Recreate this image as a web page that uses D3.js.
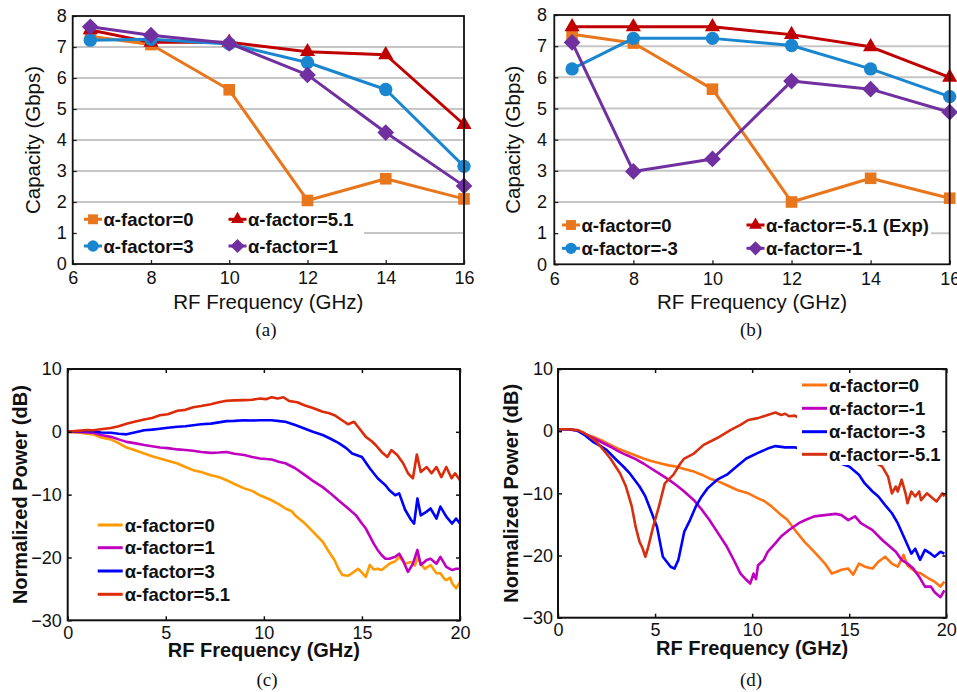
<!DOCTYPE html>
<html>
<head>
<meta charset="utf-8">
<script src="https://cdn.jsdelivr.net/npm/d3@7"></script>
<style>
  body { margin: 0; background: #fff; }
  svg { display: block; }
</style>
</head>
<body>
<svg id="fig" width="957" height="692"></svg>
<script>
// ---- data: capacity panels (a) and (b) ----
const capFreq = [6.45, 8, 10, 12, 14, 16];
const capXTicks = [6, 8, 10, 12, 14, 16];
const capYTicks = [0, 1, 2, 3, 4, 5, 6, 7, 8];

const capA0  = [7.35, 7.08, 5.62, 2.05, 2.75, 2.1];
const capA51 = [7.55, 7.15, 7.15, 6.85, 6.75, 4.5];
const capA3  = [7.22, 7.25, 7.1, 6.5, 5.63, 3.15];
const capA1  = [7.65, 7.38, 7.12, 6.1, 4.24, 2.52];

const capB0   = [7.38, 7.1, 5.62, 2.0, 2.76, 2.12];
const capBm51 = [7.62, 7.62, 7.62, 7.37, 6.98, 6.0];
const capBm3  = [6.27, 7.25, 7.25, 7.02, 6.27, 5.38];
const capBm1  = [7.12, 2.98, 3.38, 5.88, 5.62, 4.88];

const legendA = ["α-factor=0", "α-factor=5.1", "α-factor=3", "α-factor=1"];
const legendB = ["α-factor=0", "α-factor=-5.1 (Exp)", "α-factor=-3", "α-factor=-1"];

// ---- data: normalized power panels (c) and (d), [GHz, dB] ----
const powXTicks = [0, 5, 10, 15, 20];
const powYTicks = [-30, -20, -10, 0, 10];

const powC0 = [[0,0],[0.5,-0.1],[1,-0.3],[1.3,-0.4],[1.7,-0.9],[2.2,-1.2],[2.6,-1.8],[3.0,-2.5],[3.4,-2.9],[3.9,-3.45],[4.3,-3.9],[4.7,-4.25],[5.1,-4.6],[5.6,-5.05],[6.0,-5.6],[6.4,-6.1],[6.8,-6.4],[7.3,-6.9],[7.7,-7.2],[8.1,-7.7],[8.5,-8.3],[9.0,-9.0],[9.4,-9.4],[9.8,-10.1],[10.4,-10.9],[10.8,-11.6],[11.1,-12.2],[11.4,-12.6],[11.6,-13.3],[12.1,-14.6],[12.5,-15.9],[13.0,-17.5],[13.3,-19.0],[13.6,-20.4],[13.8,-21.8],[14.0,-22.8],[14.3,-22.9],[14.5,-22.5],[14.8,-21.8],[15.0,-22.4],[15.2,-23.1],[15.4,-21.2],[15.6,-21.9],[15.8,-21.8],[16.0,-22.0],[16.2,-21.5],[16.4,-21.0],[16.7,-20.6],[16.9,-19.9],[17.2,-21.0],[17.5,-20.7],[17.7,-21.3],[17.85,-19.9],[18.0,-21.0],[18.2,-21.8],[18.5,-21.2],[18.8,-22.5],[19.0,-22.5],[19.2,-23.4],[19.3,-23.6],[19.5,-23.2],[19.6,-24.1],[19.8,-24.9],[20.0,-23.9]];
const powC1 = [[0,0],[0.5,0],[1,-0.1],[1.3,-0.15],[1.7,-0.5],[2.2,-0.8],[2.6,-1.2],[3.0,-1.6],[3.4,-1.8],[3.9,-2.1],[4.3,-2.3],[4.7,-2.5],[5.1,-2.6],[5.6,-2.8],[6.0,-2.9],[6.4,-3.0],[6.8,-3.2],[7.3,-3.35],[7.7,-3.3],[8.1,-3.2],[8.5,-3.5],[9.0,-3.7],[9.4,-4.0],[9.8,-4.25],[10.4,-4.4],[10.8,-4.8],[11.1,-5.0],[11.6,-5.8],[12.1,-6.9],[12.5,-7.8],[13.0,-8.8],[13.4,-9.8],[13.8,-10.9],[14.3,-12.2],[14.7,-13.3],[15.0,-14.6],[15.2,-15.4],[15.4,-16.6],[15.6,-17.8],[15.8,-18.8],[16.0,-19.6],[16.2,-20.2],[16.4,-20.2],[16.7,-19.9],[16.9,-19.4],[17.1,-20.5],[17.35,-22.3],[17.6,-21.0],[17.83,-18.8],[18.0,-21.2],[18.3,-20.4],[18.5,-20.2],[18.8,-21.0],[19.0,-19.9],[19.3,-21.5],[19.6,-22.0],[19.8,-21.8],[20.0,-21.8]];
const powC3 = [[0,0],[0.5,0.1],[1,0.1],[1.3,0.1],[1.7,-0.1],[2.2,-0.15],[2.6,-0.3],[3.0,-0.4],[3.4,-0.1],[3.9,0.25],[4.3,0.35],[4.7,0.5],[5.1,0.65],[5.6,0.8],[6.0,0.9],[6.4,1.05],[6.8,1.2],[7.3,1.3],[7.7,1.5],[8.1,1.7],[8.5,1.75],[9.0,1.85],[9.4,1.8],[9.8,1.85],[10.4,1.85],[10.8,1.7],[11.1,1.6],[11.6,1.1],[12.1,0.5],[12.5,0.0],[13.0,-0.5],[13.4,-1.1],[13.8,-1.75],[14.2,-2.6],[14.5,-3.45],[15.0,-4.0],[15.4,-5.8],[15.8,-7.4],[16.2,-8.5],[16.4,-9.3],[16.7,-10.1],[16.9,-9.8],[17.2,-12.4],[17.5,-14.0],[17.66,-14.6],[17.83,-10.6],[18.0,-13.3],[18.3,-12.7],[18.5,-12.2],[18.8,-13.8],[19.0,-11.9],[19.3,-13.5],[19.6,-14.6],[19.8,-13.8],[20.0,-14.6]];
const powC51 = [[0,0],[0.5,0.15],[1,0.3],[1.3,0.25],[1.7,0.4],[2.2,0.6],[2.6,0.9],[3.0,1.3],[3.4,1.6],[3.9,1.95],[4.3,2.2],[4.7,2.65],[5.1,2.8],[5.6,3.35],[6.0,3.5],[6.4,3.9],[6.8,4.1],[7.3,4.4],[7.7,4.7],[8.1,4.95],[8.5,5.0],[9.0,5.05],[9.4,5.1],[9.8,5.3],[10.1,5.2],[10.4,5.5],[10.7,5.3],[11.0,5.5],[11.3,4.9],[11.7,4.7],[12.1,4.2],[12.5,3.8],[13.0,3.2],[13.3,3.0],[13.6,2.65],[14.1,1.6],[14.3,1.2],[14.6,1.6],[14.8,0.8],[15.2,-0.8],[15.5,-1.5],[15.7,-2.1],[16.0,-3.2],[16.3,-4.0],[16.5,-2.9],[16.8,-3.7],[17.1,-5.0],[17.35,-6.6],[17.6,-7.4],[17.8,-3.6],[18.0,-6.4],[18.3,-5.6],[18.55,-6.6],[18.8,-5.6],[19.05,-7.2],[19.3,-5.6],[19.57,-7.4],[19.75,-6.6],[20.0,-7.7]];

const powD0 = [[0,0.3],[0.5,0.3],[1,0.1],[1.4,-0.5],[1.8,-0.9],[2.2,-1.4],[2.7,-2.2],[3.1,-2.8],[3.5,-3.3],[4.0,-3.9],[4.4,-4.4],[4.8,-4.8],[5.3,-5.2],[5.7,-5.5],[6.1,-5.7],[6.5,-6.1],[7.0,-6.5],[7.4,-7.0],[7.8,-7.6],[8.2,-8.0],[8.7,-8.7],[9.26,-9.5],[9.8,-10.0],[10.3,-10.8],[10.6,-11.2],[11.0,-12.1],[11.5,-13.5],[11.8,-14.2],[12.2,-15.9],[12.7,-17.8],[13.2,-19.4],[13.75,-21.3],[14.1,-22.9],[14.35,-22.6],[14.6,-22.3],[14.95,-22.1],[15.2,-23.1],[15.5,-21.3],[15.8,-21.8],[16.2,-22.1],[16.5,-21.0],[16.85,-20.2],[17.2,-21.3],[17.5,-21.8],[17.8,-19.9],[18.0,-21.6],[18.4,-22.6],[18.7,-22.9],[19.1,-23.7],[19.4,-24.2],[19.7,-25.0],[19.9,-24.2]];
const powDm1 = [[0,0.3],[0.5,0.3],[1,0.1],[1.4,-0.5],[1.8,-1.1],[2.2,-1.7],[2.7,-2.5],[3.1,-3.2],[3.5,-3.8],[4.0,-4.5],[4.4,-5.2],[4.8,-6.0],[5.3,-7.0],[5.7,-7.8],[6.1,-8.7],[6.5,-9.7],[7.0,-11.1],[7.4,-12.6],[7.8,-14.3],[8.2,-16.2],[8.7,-18.6],[9.1,-21.0],[9.4,-22.9],[9.7,-23.9],[9.9,-24.5],[10.07,-22.9],[10.2,-23.8],[10.3,-21.6],[10.6,-20.7],[10.8,-19.4],[11.2,-18.0],[11.5,-16.9],[11.9,-15.9],[12.4,-14.8],[12.8,-14.2],[13.2,-13.7],[13.75,-13.5],[14.3,-13.3],[14.6,-13.5],[14.95,-14.3],[15.3,-13.7],[15.6,-14.8],[16.2,-15.9],[16.7,-17.5],[17.0,-18.3],[17.4,-19.4],[17.7,-20.7],[18.0,-21.3],[18.3,-22.1],[18.6,-23.4],[18.9,-25.0],[19.2,-25.0],[19.4,-25.9],[19.7,-26.7],[19.9,-25.6]];
const powDm3 = [[0,0.3],[0.5,0.3],[1,0.1],[1.4,-0.7],[1.8,-1.7],[2.2,-2.4],[2.5,-3.0],[3.0,-4.6],[3.4,-5.8],[3.7,-6.8],[4.2,-8.9],[4.5,-10.5],[4.7,-12.1],[5.1,-15.4],[5.4,-20.2],[5.8,-21.8],[6.0,-22.1],[6.2,-20.7],[6.5,-16.2],[6.8,-14.3],[7.1,-12.1],[7.4,-10.5],[7.7,-9.2],[8.2,-7.8],[8.7,-7.0],[9.2,-5.7],[9.7,-4.4],[10.3,-3.5],[10.8,-2.8],[11.2,-2.4],[11.7,-2.6],[12.2,-2.6],[15.0,-5.7],[15.5,-7.0],[15.8,-8.4],[16.2,-9.7],[16.5,-10.5],[16.85,-11.9],[17.2,-13.2],[17.5,-14.8],[17.8,-16.9],[18.0,-18.3],[18.2,-19.7],[18.4,-18.9],[18.65,-20.7],[18.9,-19.1],[19.2,-19.7],[19.4,-20.2],[19.7,-19.4],[19.9,-19.7]];
const powDm51 = [[0,0.3],[0.5,0.3],[1,0.2],[1.35,-0.3],[1.65,-0.9],[2.0,-1.8],[2.2,-2.5],[2.7,-4.4],[3.2,-6.8],[3.5,-8.9],[3.8,-12.1],[4.0,-15.4],[4.2,-17.8],[4.35,-18.8],[4.5,-20.2],[4.65,-18.6],[4.9,-15.4],[5.2,-12.1],[5.5,-8.4],[5.95,-7.0],[6.3,-5.2],[6.5,-4.4],[7.0,-3.6],[7.5,-2.2],[8.2,-1.1],[8.9,0.2],[9.4,1.0],[9.8,1.8],[10.3,2.1],[10.8,2.6],[11.2,3.0],[11.5,2.6],[11.7,2.8],[11.9,2.4],[12.2,2.5],[16.7,-5.7],[17.0,-7.3],[17.2,-10.0],[17.4,-8.9],[17.5,-9.7],[17.7,-7.8],[17.9,-10.0],[18.0,-11.6],[18.2,-9.7],[18.4,-10.5],[18.6,-9.7],[18.7,-11.1],[19.0,-10.0],[19.3,-10.8],[19.5,-11.3],[19.8,-10.0],[19.9,-10.5]];

const legendC = ["α-factor=0", "α-factor=1", "α-factor=3", "α-factor=5.1"];
const legendD = ["α-factor=0", "α-factor=-1", "α-factor=-3", "α-factor=-5.1"];

const svg = d3.select("#fig");
svg.append("rect").attr("width", 957).attr("height", 692).attr("fill", "#fff");

const sansFont = "'Liberation Sans', Arial, sans-serif";
const serifFont = "'Liberation Serif', 'Times New Roman', serif";

// marker path for the capacity plots (diamond = square turned 45deg)
function marker(shape, k) {
    if (shape === "square") return d3.symbol(d3.symbolSquare, 135 * k * k)();
    if (shape === "circle") return d3.symbol(d3.symbolCircle, 140 * k * k)();
    if (shape === "triangle") return d3.symbol(d3.symbolTriangle, 100 * k * k)();
    return d3.symbol(d3.symbolSquare, 140 * k * k)();
}

function capacityPanel(cfg) {
    const x = d3.scaleLinear().domain([6, 16]).range([cfg.x0, cfg.x1]);
    const y = d3.scaleLinear().domain([0, 8]).range([cfg.y1, cfg.y0]);
    const g = svg.append("g");

    // gridlines
    g.selectAll("line.grid")
        .data(capYTicks.filter(v => v > 0 && v < 8))
        .join("line")
        .attr("x1", cfg.x0).attr("x2", cfg.x1)
        .attr("y1", d => y(d)).attr("y2", d => y(d))
        .attr("stroke", "#c6c6c6").attr("stroke-width", 2);

    // legend background hides the gridline behind it
    g.append("rect")
        .attr("x", cfg.x0 + 1).attr("y", cfg.legBox[0])
        .attr("width", cfg.legBox[2] - cfg.x0).attr("height", cfg.legBox[1] - cfg.legBox[0])
        .attr("fill", "#fff");

    // axes
    const xa = g.append("g").attr("transform", `translate(0,${cfg.y1})`)
        .call(d3.axisBottom(x).tickValues(capXTicks).tickSize(-4).tickPadding(7.7).tickFormat(d3.format("d")));
    const ya = g.append("g").attr("transform", `translate(${cfg.x0},0)`)
        .call(d3.axisLeft(y).tickValues(capYTicks).tickSize(-4).tickPadding(cfg.yPad).tickFormat(d3.format("d")));
    [xa, ya].forEach(a => {
        a.select(".domain").remove();
        a.selectAll("line").attr("stroke", "#222").attr("stroke-width", 1.3);
        a.selectAll("text").attr("fill", "#111").style("font", `18px ${sansFont}`);
    });

    // series
    const line = d3.line().x(d => x(d[0])).y(d => y(d[1]));
    cfg.series.forEach(s => {
        const pts = capFreq.map((f, i) => [f, s.values[i]]);
        g.append("path").datum(pts)
            .attr("d", line).attr("fill", "none")
            .attr("stroke", s.color).attr("stroke-width", 3).attr("stroke-linejoin", "round");
        g.selectAll(null).data(pts).join("path")
            .attr("transform", d => `translate(${x(d[0])},${y(d[1])})` + (s.shape === "diamond" ? " rotate(45)" : ""))
            .attr("d", marker(s.shape, 1))
            .attr("fill", s.color);
    });

    // legend entries
    cfg.series.forEach((s, i) => {
        const col = cfg.legCols[i % 2], row = cfg.legRows[Math.floor(i / 2)];
        g.append("line")
            .attr("x1", col - 9).attr("x2", col + 9).attr("y1", row).attr("y2", row)
            .attr("stroke", s.color).attr("stroke-width", 3);
        g.append("path")
            .attr("transform", `translate(${col},${row})` + (s.shape === "diamond" ? " rotate(45)" : ""))
            .attr("d", marker(s.shape, 0.85)).attr("fill", s.color);
        g.append("text")
            .attr("x", col + 10.5).attr("y", row).attr("dy", "0.36em")
            .style("font", `bold 18.5px ${sansFont}`).attr("fill", "#111")
            .text(s.label);
    });

    // plot border
    g.append("rect")
        .attr("x", cfg.x0).attr("y", cfg.y0)
        .attr("width", cfg.x1 - cfg.x0).attr("height", cfg.y1 - cfg.y0)
        .attr("fill", "none").attr("stroke", "#111").attr("stroke-width", 1.8);

    // titles
    g.append("text")
        .attr("x", (cfg.x0 + cfg.x1) / 2).attr("y", 309).attr("text-anchor", "middle")
        .style("font", `20.5px ${sansFont}`).attr("fill", "#111")
        .text("RF Frequency (GHz)");
    g.append("text")
        .attr("transform", `translate(${cfg.ytx},${(cfg.y0 + cfg.y1) / 2}) rotate(-90)`)
        .attr("text-anchor", "middle").attr("dy", "0.35em")
        .style("font", `20.5px ${sansFont}`).attr("fill", "#111")
        .text("Capacity (Gbps)");
    g.append("text")
        .attr("x", cfg.capX).attr("y", 336).attr("text-anchor", "middle")
        .style("font", `19px ${serifFont}`).attr("fill", "#111")
        .text(cfg.caption);
}

function powerPanel(cfg) {
    const x = d3.scaleLinear().domain([0, 20]).range([cfg.x0, cfg.x1]);
    const y = d3.scaleLinear().domain([-30, 10]).range([cfg.y1, cfg.y0]);
    const g = svg.append("g");

    const clipId = "clip-" + cfg.caption.replace(/\W/g, "");
    g.append("clipPath").attr("id", clipId)
        .append("rect").attr("x", cfg.x0).attr("y", cfg.y0)
        .attr("width", cfg.x1 - cfg.x0).attr("height", cfg.y1 - cfg.y0);

    const line = d3.line().x(d => x(d[0])).y(d => y(d[1]));
    const lines = g.append("g").attr("clip-path", `url(#${clipId})`);
    cfg.series.forEach(s => {
        lines.append("path").datum(s.values)
            .attr("d", line).attr("fill", "none")
            .attr("stroke", s.color).attr("stroke-width", 2.6).attr("stroke-linejoin", "round");
    });

    // legend with white background
    g.append("rect")
        .attr("x", cfg.legBox[0]).attr("y", cfg.legBox[1])
        .attr("width", cfg.legBox[2] - cfg.legBox[0]).attr("height", cfg.legBox[3] - cfg.legBox[1])
        .attr("fill", "#fff");
    cfg.series.forEach((s, i) => {
        const row = cfg.legRows[i];
        g.append("line")
            .attr("x1", cfg.legX).attr("x2", cfg.legX + 25).attr("y1", row).attr("y2", row)
            .attr("stroke", s.color).attr("stroke-width", 3);
        g.append("text")
            .attr("x", cfg.legX + 27).attr("y", row).attr("dy", "0.36em")
            .style("font", `bold 18.5px ${sansFont}`).attr("fill", "#111")
            .text(s.label);
    });

    // axes with inward ticks on all sides
    const xa = g.append("g").attr("transform", `translate(0,${cfg.y1})`)
        .call(d3.axisBottom(x).tickValues(powXTicks).tickSize(-4).tickPadding(cfg.xPad));
    const xt = g.append("g").attr("transform", `translate(0,${cfg.y0})`)
        .call(d3.axisTop(x).tickValues(powXTicks).tickSize(-4).tickFormat(""));
    const ya = g.append("g").attr("transform", `translate(${cfg.x0},0)`)
        .call(d3.axisLeft(y).tickValues(powYTicks).tickSize(-4).tickPadding(cfg.yPad));
    const yr = g.append("g").attr("transform", `translate(${cfg.x1},0)`)
        .call(d3.axisRight(y).tickValues(powYTicks).tickSize(-4).tickFormat(""));
    [xa, xt, ya, yr].forEach(a => {
        a.select(".domain").remove();
        a.selectAll("line").attr("stroke", "#111").attr("stroke-width", 1.5);
        a.selectAll("text").attr("fill", "#111").style("font", `18px ${sansFont}`);
    });

    g.append("rect")
        .attr("x", cfg.x0).attr("y", cfg.y0)
        .attr("width", cfg.x1 - cfg.x0).attr("height", cfg.y1 - cfg.y0)
        .attr("fill", "none").attr("stroke", "#111").attr("stroke-width", 2);

    g.append("text")
        .attr("x", (cfg.x0 + cfg.x1) / 2).attr("y", cfg.xty).attr("text-anchor", "middle")
        .style("font", `bold 20px ${sansFont}`).attr("fill", "#111")
        .text("RF Frequency (GHz)");
    g.append("text")
        .attr("transform", `translate(${cfg.ytx},${(cfg.y0 + cfg.y1) / 2}) rotate(-90)`)
        .attr("text-anchor", "middle").attr("dy", "0.35em")
        .style("font", `bold 20px ${sansFont}`).attr("fill", "#111")
        .text("Normalized Power (dB)");
    g.append("text")
        .attr("x", cfg.capX).attr("y", 686).attr("text-anchor", "middle")
        .style("font", `19px ${serifFont}`).attr("fill", "#111")
        .text(cfg.caption);
}

const cOrange = "#e8761c", cRed = "#c00000", cBlue = "#1a86cf", cPurple = "#7030a0";

capacityPanel({
    x0: 72.7, x1: 464, y0: 16, y1: 264, yPad: 6, ytx: 32.5, capX: 266, caption: "(a)",
    legBox: [205, 260, 363], legCols: [93, 237.5], legRows: [219.3, 246],
    series: [
        { label: legendA[0], values: capA0, color: cOrange, shape: "square" },
        { label: legendA[1], values: capA51, color: cRed, shape: "triangle" },
        { label: legendA[2], values: capA3, color: cBlue, shape: "circle" },
        { label: legendA[3], values: capA1, color: cPurple, shape: "diamond" }
    ]
});

capacityPanel({
    x0: 554.3, x1: 949.7, y0: 15, y1: 264.3, yPad: 7.3, ytx: 513, capX: 751, caption: "(b)",
    legBox: [206, 260, 930], legCols: [571, 755.5], legRows: [225, 248.3],
    series: [
        { label: legendB[0], values: capB0, color: cOrange, shape: "square" },
        { label: legendB[1], values: capBm51, color: cRed, shape: "triangle" },
        { label: legendB[2], values: capBm3, color: cBlue, shape: "circle" },
        { label: legendB[3], values: capBm1, color: cPurple, shape: "diamond" }
    ]
});

powerPanel({
    x0: 67.7, x1: 460, y0: 369, y1: 620.3, yPad: 6, xPad: 5.5, ytx: 19.5, xty: 657, capX: 267, caption: "(c)",
    legBox: [92, 512, 236, 606], legX: 97.7, legRows: [525, 547.7, 571, 594.3],
    series: [
        { label: legendC[0], values: powC0, color: "#ff9a00" },
        { label: legendC[1], values: powC1, color: "#c000c0" },
        { label: legendC[2], values: powC3, color: "#0000ff" },
        { label: legendC[3], values: powC51, color: "#dd2a08" }
    ]
});

powerPanel({
    x0: 558, x1: 946.3, y0: 369, y1: 617.7, yPad: 5, xPad: 6, ytx: 510.5, xty: 655, capX: 751, caption: "(d)",
    legBox: [797, 372, 944, 465], legX: 802, legRows: [385, 408.3, 431.7, 454.3],
    series: [
        { label: legendD[0], values: powD0, color: "#ff7412" },
        { label: legendD[1], values: powDm1, color: "#c000c0" },
        { label: legendD[2], values: powDm3, color: "#0000ff" },
        { label: legendD[3], values: powDm51, color: "#d63010" }
    ]
});
</script>
</body>
</html>
